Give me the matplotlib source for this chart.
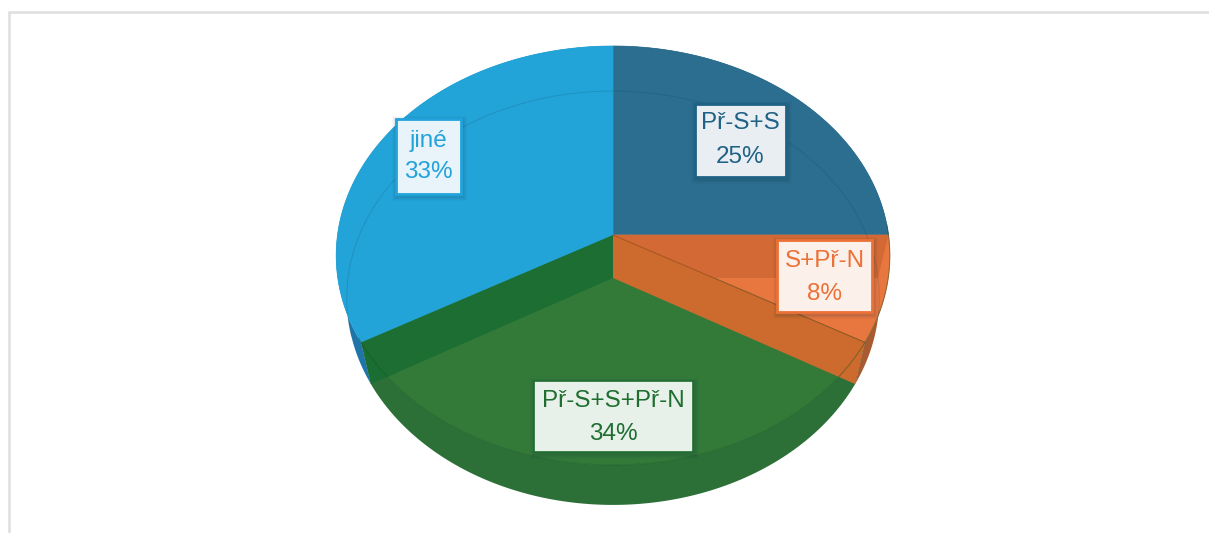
import numpy as np
import matplotlib
matplotlib.use("Agg")
import matplotlib.pyplot as plt
from matplotlib.patches import Polygon, Rectangle

categories = ["Př-S+S", "S+Př-N", "Př-S+S+Př-N", "jiné"]
values = [25, 8.2, 33.6, 33.2]
pct_labels = ["25%", "8%", "34%", "33%"]

top_colors = ["#2B6E8F", "#E8773F", "#337A39", "#23A4D8"]
side_colors = ["#1F5570", "#A85A30", "#2C7037", "#1F74A8"]
text_colors = ["#1F6285", "#EC7136", "#1E6E30", "#22A3DB"]
box_colors = ["#1F6285", "#EC7136", "#1E6E30", "#22A3DB"]
box_faces = ["#E9EEF3", "#FBF0EA", "#E8F0EA", "#E9F3FA"]
# label boxes: left, top, width, height in px
boxes = [(695, 104, 91, 73), (777, 240, 95, 72), (534, 381, 159, 71), (396, 119, 65, 75)]
line_y = [(123, 157), (261, 294), (401, 434), (141, 172)]

TOP = dict(a=275.5, b=207.5, c=0.0979, x0=613, y0=235)
BOT = dict(a=265.0, b=205.0, c=0.0966, x0=613, y0=278)


def proj(theta, a, b, c, x0, y0):
    s, k = np.sin(theta), np.cos(theta)
    d = 1 + c * k
    return np.column_stack([x0 + a * s / d, y0 - b * k / d])


def arc(t0, t1, geo, n=120):
    return proj(np.linspace(t0, t1, n), **geo)


fig = plt.figure(figsize=(12.09, 5.33), dpi=100)
ax = fig.add_axes([0, 0, 1, 1])
ax.set_xlim(0, 1209)
ax.set_ylim(533, 0)
ax.axis("off")

ax.plot([8.5, 8.5, 1209], [533, 12, 12], color="#DEDEDE", lw=1.8, solid_joinstyle="miter", zorder=1)

edges = 2 * np.pi * np.cumsum([0] + values) / sum(values)
apex_top = [TOP["x0"], TOP["y0"]]
apex_bot = [BOT["x0"], BOT["y0"]]

# outer sides
for i in range(len(values)):
    t0, t1 = edges[i], edges[i + 1]
    ax.add_patch(Polygon(np.vstack([arc(t0, t1, TOP), arc(t1, t0, BOT)]),
                         fc=side_colors[i], ec="none", zorder=2))

# top surfaces
for i in range(len(values)):
    t0, t1 = edges[i], edges[i + 1]
    ax.add_patch(Polygon(np.vstack([[apex_top], arc(t0, t1, TOP)]),
                         fc=top_colors[i], ec=top_colors[i], lw=0.5, zorder=3))

# inner walls seen through the translucent top
wall_colors = {0: "#D26A35", 1: "#CC6B2D", 2: "#1B6E33"}
wall_alpha = {0: 0.95, 1: 1.0, 2: 0.95}
for i in [0, 2, 1]:
    t = edges[i + 1]
    p_top = proj(np.array([t]), **TOP)[0]
    p_bot = proj(np.array([t]), **BOT)[0]
    ax.add_patch(Polygon([apex_top, p_top, p_bot, apex_bot], fc=wall_colors[i], ec="none",
                         alpha=wall_alpha[i], zorder=4))

# seam lines
ax.plot(*arc(edges[1] - 0.05, edges[3] + 0.02, TOP).T, color="#14501F", lw=0.8, alpha=0.4, zorder=5)
ax.plot(*arc(-1.85, 1.75, BOT).T, color="#12384F", lw=0.8, alpha=0.16, zorder=5)
seam = proj(np.array([edges[2]]), **TOP)[0]
ax.plot([apex_top[0], seam[0]], [apex_top[1], seam[1]], color="#9A4F1F", lw=0.8, alpha=0.7, zorder=5)

# labels
for i, (x, y, w, h) in enumerate(boxes):
    for off, al in ((5, 0.03), (4, 0.04), (3, 0.05), (2, 0.06)):
        ax.add_patch(Rectangle((x - off + 1, y - off + 2), w + 2 * off, h + 2 * off,
                               fc="#123040", ec="none", alpha=al, zorder=6))
    ax.add_patch(Rectangle((x, y), w, h, fc=box_faces[i], ec=box_colors[i],
                           lw=1.2 if i == 2 else 2.0, zorder=7))
    cx = x + w / 2
    ax.text(cx, line_y[i][0], categories[i], color=text_colors[i], fontsize=17.5,
            family="Liberation Sans", ha="center", va="center", zorder=8)
    ax.text(cx, line_y[i][1], pct_labels[i], color=text_colors[i], fontsize=17.5,
            family="Liberation Sans", ha="center", va="center", zorder=8)

fig.savefig("out.png", dpi=100)
